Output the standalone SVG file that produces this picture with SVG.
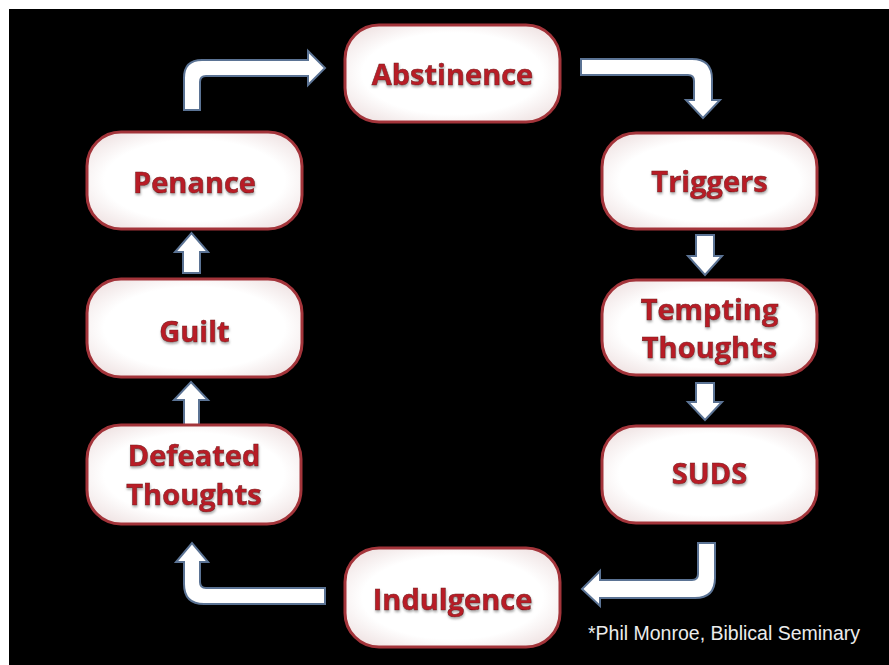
<svg xmlns="http://www.w3.org/2000/svg" width="889" height="665" viewBox="0 0 889 665">
<defs>
<style>
.box{fill:url(#bg);stroke:#a3343a;stroke-width:3}
.lbl{font-family:"Open Sans","Noto Sans","Liberation Sans",sans-serif;font-weight:bold;font-size:29px;fill:#b81f28;stroke:#7a1016;stroke-width:0.6;text-anchor:middle;filter:url(#sh)}
.arr{fill:#ffffff;stroke:#5b7394;stroke-width:2;stroke-linejoin:miter}
.note{font-family:"Liberation Sans",Arial,sans-serif;font-size:19.5px;fill:#ececec}
</style>
<radialGradient id="bg" cx="0.5" cy="0.5" r="0.6">
<stop offset="0.7" stop-color="#ffffff"/>
<stop offset="1" stop-color="#f1e6e6"/>
</radialGradient>
<filter id="sh" x="-10%" y="-20%" width="120%" height="150%">
<feDropShadow dx="0.5" dy="2" stdDeviation="1" flood-color="#9a9a9a" flood-opacity="0.8"/>
</filter>
</defs>
<rect x="0" y="0" width="889" height="665" fill="#ffffff"/>
<rect x="9" y="9" width="880" height="656" fill="#000000"/>
<g id="connectors">
<path class="arr" d="M184,110 L184,78 Q184,60 202,60 L308,60 L308,51 L325,68 L308,85 L308,76 L206,76 Q200,76 200,82 L200,110 Z"/>
<path class="arr" d="M581,59 L692,59 Q712,59 712,79 L712,100 L720,100 L703,118 L686,100 L694,100 L694,81 Q694,75 688,75 L581,75 Z"/>
<path class="arr" d="M696,235 L714,235 L714,256 L722,256 L705,275 L688,256 L696,256 Z"/>
<path class="arr" d="M696,383 L714,383 L714,402 L722,402 L705,420 L688,402 L696,402 Z"/>
<path class="arr" d="M698,543 L715,543 L715,578 Q715,598 695,598 L600,598 L600,606 L582,589 L600,571 L600,580 L692,580 Q698,580 698,574 Z"/>
<path class="arr" d="M325,588 L206,588 Q200,588 200,582 L200,562 L208,562 L192,543 L176,562 L184,562 L184,584 Q184,604 204,604 L325,604 Z"/>
<path class="arr" d="M184,425 L184,400 L174,400 L191,382 L208,400 L199,400 L199,425 Z"/>
<path class="arr" d="M183,273 L183,252 L175,252 L191.5,233 L208,252 L200,252 L200,273 Z"/>
</g>
<g id="abstinence"><rect class="box" x="345" y="25" width="215" height="97" rx="34"/><text class="lbl" x="452.5" y="85">Abstinence</text></g>
<g id="triggers"><rect class="box" x="602" y="133" width="215" height="96" rx="34"/><text class="lbl" x="709.5" y="192">Triggers</text></g>
<g id="tempting"><rect class="box" x="602" y="280" width="215" height="95" rx="34"/><text class="lbl" x="709.5" y="320">Tempting</text><text class="lbl" x="709.5" y="358">Thoughts</text></g>
<g id="suds"><rect class="box" x="602" y="426" width="215" height="97" rx="34"/><text class="lbl" x="709.5" y="484">SUDS</text></g>
<g id="indulgence"><rect class="box" x="345" y="548" width="215" height="99" rx="34"/><text class="lbl" x="452.5" y="610">Indulgence</text></g>
<g id="defeated"><rect class="box" x="87" y="425" width="214" height="99" rx="34"/><text class="lbl" x="194" y="466">Defeated</text><text class="lbl" x="194" y="505">Thoughts</text></g>
<g id="guilt"><rect class="box" x="87" y="279" width="215" height="98" rx="34"/><text class="lbl" x="194.5" y="342">Guilt</text></g>
<g id="penance"><rect class="box" x="87" y="132" width="215" height="97" rx="34"/><text class="lbl" x="194.5" y="193">Penance</text></g>
<text class="note" x="588" y="640">*Phil Monroe, Biblical Seminary</text>
</svg>
